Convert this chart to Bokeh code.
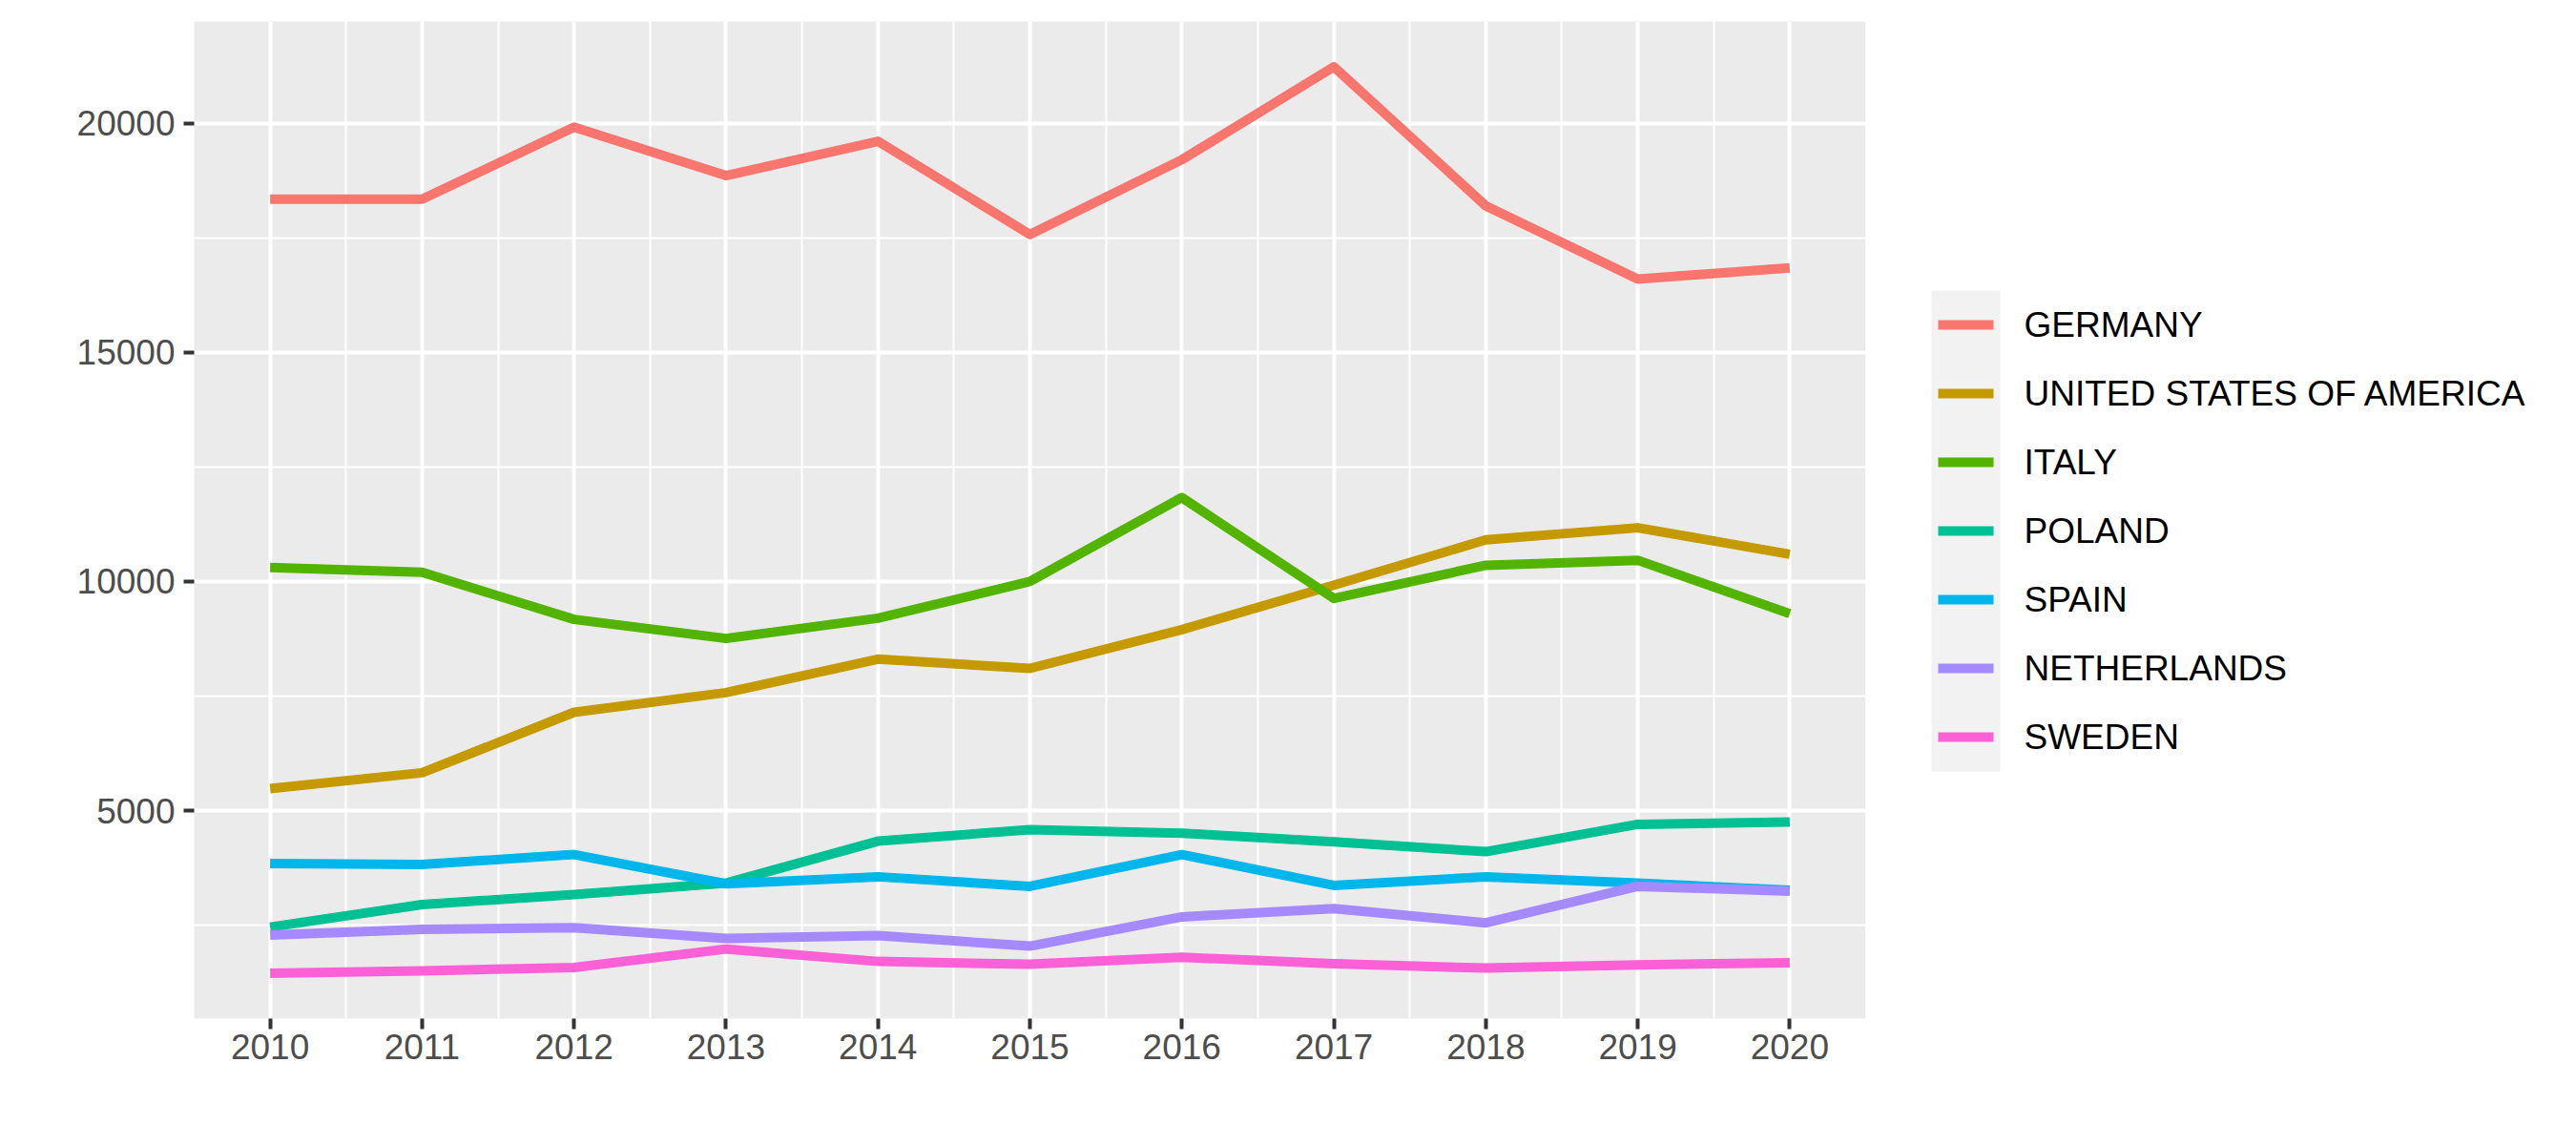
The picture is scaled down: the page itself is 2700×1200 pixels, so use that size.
from bokeh.plotting import figure
from bokeh.models import Range1d, FixedTicker, BasicTickFormatter, ColumnDataSource
from bokeh.layouts import row
from bokeh.core.properties import value
from bokeh.embed import file_html
from bokeh.resources import INLINE

years = [2010, 2011, 2012, 2013, 2014, 2015, 2016, 2017, 2018, 2019, 2020]
countries = ["GERMANY", "UNITED STATES OF AMERICA", "ITALY", "POLAND",
             "SPAIN", "NETHERLANDS", "SWEDEN"]
colors = ["#F8766D", "#C49A00", "#53B400", "#00C094", "#00B6EB", "#A58AFF", "#FB61D7"]

germany = [18347, 18347, 19917, 18861, 19611, 17576, 19208, 21236, 18201, 16604, 16847]
usa = [5479, 5826, 7146, 7576, 8306, 8104, 8951, 9920, 10910, 11174, 10597]
italy = [10306, 10201, 9174, 8757, 9201, 10000, 11833, 9632, 10354, 10465, 9299]
poland = [2458, 2951, 3167, 3417, 4333, 4583, 4507, 4319, 4104, 4701, 4750]
spain = [3847, 3826, 4042, 3403, 3556, 3347, 4042, 3368, 3556, 3417, 3264]
netherlands = [2285, 2410, 2444, 2208, 2271, 2042, 2681, 2861, 2549, 3347, 3243]
sweden = [1450, 1500, 1576, 1979, 1708, 1646, 1799, 1660, 1562, 1632, 1681]

series = [germany, usa, italy, poland, spain, netherlands, sweden]

y_major = [5000, 10000, 15000, 20000]
y_minor = [2500, 7500, 12500, 17500]
x_minor = [y + 0.5 for y in years[:-1]]

FONT = "Liberation Sans"

# ggplot-style 5% expansion
all_vals = [v for s in series for v in s]
vmin, vmax = min(all_vals), max(all_vals)
ypad = 0.05 * (vmax - vmin)
xpad = 0.05 * (years[-1] - years[0])

TOP, FH, H = 22, 1045, 1184
LEFT, FW = 203, 1752
MAIN_W = LEFT + FW
LEG_W = 2684 - MAIN_W

p = figure(width=MAIN_W, height=H, output_backend="svg", toolbar_location=None,
           x_range=Range1d(years[0] - xpad, years[-1] + xpad),
           y_range=Range1d(vmin - ypad, vmax + ypad),
           frame_width=FW, frame_height=FH,
           min_border_left=LEFT, min_border_right=0, min_border_top=TOP,
           min_border_bottom=H - TOP - FH)
p.background_fill_color = "#EBEBEB"
p.border_fill_color = "white"
p.outline_line_color = None

for s, c in zip(series, colors):
    p.line(years, s, line_color=c, line_width=10, line_join="round", line_cap="butt")

p.xaxis.ticker = FixedTicker(ticks=years, minor_ticks=x_minor)
p.yaxis.ticker = FixedTicker(ticks=y_major, minor_ticks=y_minor)
p.yaxis.formatter = BasicTickFormatter(use_scientific=False)

for ax in (p.xaxis, p.yaxis):
    ax.axis_line_color = None
    ax.major_tick_line_color = "#333333"
    ax.major_tick_line_width = 4
    ax.major_tick_out = 11
    ax.major_tick_in = 0
    ax.minor_tick_out = 0
    ax.minor_tick_in = 0
    ax.major_label_text_font = FONT
    ax.major_label_text_font_size = "37px"
    ax.major_label_text_color = "#4D4D4D"
p.xaxis.major_label_standoff = 5
p.yaxis.major_label_standoff = 9

for g in (p.xgrid, p.ygrid):
    g.grid_line_color = "white"
    g.grid_line_width = 4
    g.minor_grid_line_color = "white"
    g.minor_grid_line_width = 2

# legend panel (coordinates in page pixels)
lg = figure(width=LEG_W, height=H, output_backend="svg", toolbar_location=None,
            x_range=Range1d(MAIN_W, MAIN_W + LEG_W), y_range=Range1d(TOP + FH, TOP),
            frame_width=LEG_W, frame_height=FH,
            min_border_left=0, min_border_right=0, min_border_top=TOP,
            min_border_bottom=H - TOP - FH)
lg.axis.visible = False
lg.grid.visible = False
lg.outline_line_color = None
lg.background_fill_color = "white"
lg.border_fill_color = "white"

n = len(countries)
key_y = [340 + 72 * i for i in range(n)]
lg.quad(left=2024, right=2096, top=key_y[0] - 36, bottom=key_y[-1] + 36,
        fill_color="#F2F2F2", line_color=None)
src = ColumnDataSource(dict(y=key_y, name=countries, color=colors,
                            x0=[2031] * n, x1=[2089] * n, xt=[2121] * n))
lg.segment(x0="x0", y0="y", x1="x1", y1="y", line_color="color", line_width=10,
           line_cap="butt", source=src)
lg.text(x="xt", y="y", text="name", source=src, text_font=value(FONT),
        text_font_size="37px", text_color="black", text_baseline="middle",
        text_align="left")

layout = row(p, lg, spacing=0)
open("out.html", "w").write(file_html(layout, INLINE))
